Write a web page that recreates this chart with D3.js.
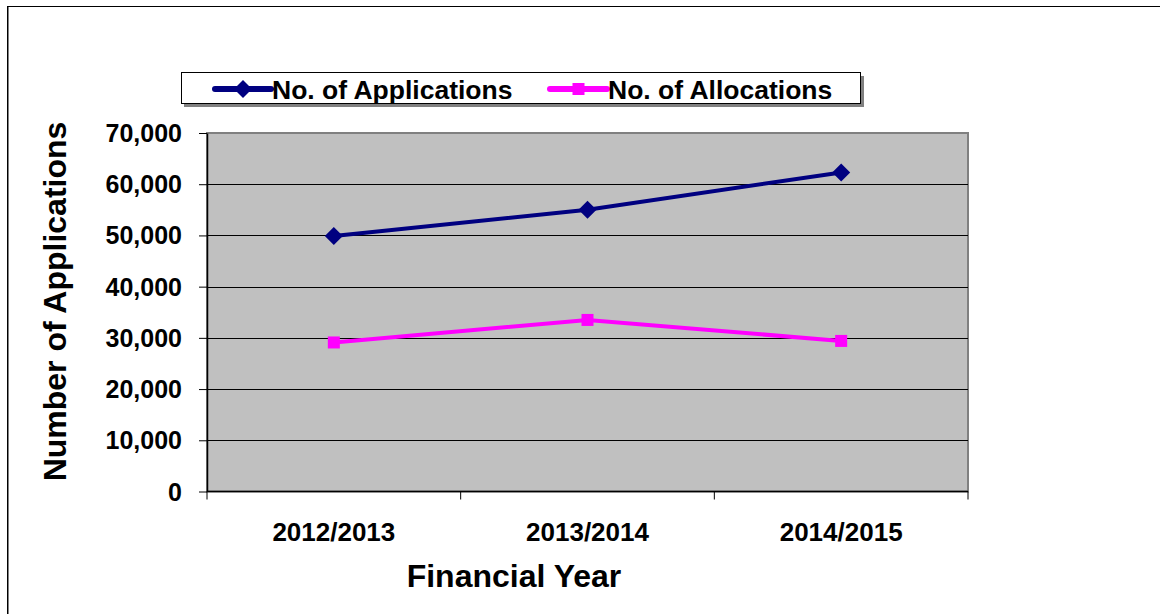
<!DOCTYPE html>
<html>
<head>
<meta charset="utf-8">
<script src="https://cdn.jsdelivr.net/npm/d3@7"></script>
<style>
  html, body { margin: 0; padding: 0; background: #fff; }
  svg { display: block; }
  text { font-family: 'Liberation Sans', Arial, sans-serif; font-weight: bold; fill: #000; }
</style>
</head>
<body>
<div id="chart"></div>
<script>
// ─── Data ───
const categories = ['2012/2013', '2013/2014', '2014/2015'];
const applications = [49900, 55000, 62300];
const allocations = [29100, 33500, 29400];
const yTickValues = [0, 10000, 20000, 30000, 40000, 50000, 60000, 70000];

const W = 1160, H = 614;
const plot = { left: 207, right: 968, top: 133, bottom: 491.5 };

const svg = d3.select('#chart').append('svg')
  .attr('width', W).attr('height', H);

// outer chart frame (runs off the right / bottom edge)
svg.append('rect')
  .attr('x', 7.5).attr('y', 6.5)
  .attr('width', W + 20).attr('height', H + 20)
  .attr('fill', '#fff')
  .attr('stroke', '#000').attr('stroke-width', 1);
svg.append('line')
  .attr('x1', 8.5).attr('x2', 8.5).attr('y1', 7).attr('y2', H)
  .attr('stroke', '#808080').attr('stroke-width', 1);

const x = d3.scaleBand().domain(categories).range([plot.left, plot.right]);
const y = d3.scaleLinear().domain([0, 70000]).range([plot.bottom, plot.top]);

// ─── Plot area ───
svg.append('rect')
  .attr('x', plot.left).attr('y', plot.top)
  .attr('width', plot.right - plot.left).attr('height', plot.bottom - plot.top)
  .attr('fill', '#c0c0c0')
  .attr('stroke', '#808080').attr('stroke-width', 2);

// gridlines
svg.append('g').selectAll('line')
  .data(yTickValues.filter(d => d > 0 && d < 70000))
  .join('line')
  .attr('x1', plot.left).attr('x2', plot.right)
  .attr('y1', d => Math.round(y(d)) + 0.5).attr('y2', d => Math.round(y(d)) + 0.5)
  .attr('stroke', '#000').attr('stroke-width', 1);

// ─── Y axis ───
const yAxis = svg.append('g')
  .attr('transform', `translate(${plot.left},0)`)
  .call(d3.axisLeft(y).tickValues(yTickValues).tickFormat(d3.format(','))
    .tickSize(8).tickSizeOuter(0).tickPadding(17));
yAxis.select('.domain').attr('stroke', '#000').attr('stroke-width', 1.5);
yAxis.selectAll('.tick line').attr('stroke', '#000');
yAxis.selectAll('.tick text')
  .attr('font-size', '25px')
  .attr('font-family', "'Liberation Sans', Arial, sans-serif")
  .attr('font-weight', 'bold')
  .attr('dy', '0.34em');

// ─── X axis ───
const xg = svg.append('g');
xg.append('line')
  .attr('x1', plot.left).attr('x2', plot.right)
  .attr('y1', plot.bottom).attr('y2', plot.bottom)
  .attr('stroke', '#000').attr('stroke-width', 1.5);
const bounds = categories.map(c => x(c)).concat([x.range()[1]]);
xg.selectAll('line.tick')
  .data(bounds)
  .join('line')
  .attr('class', 'tick')
  .attr('x1', d => d).attr('x2', d => d)
  .attr('y1', plot.bottom).attr('y2', plot.bottom + 8)
  .attr('stroke', '#000').attr('stroke-width', 1);
xg.selectAll('text')
  .data(categories)
  .join('text')
  .attr('x', d => x(d) + x.bandwidth() / 2)
  .attr('y', 540.5)
  .attr('text-anchor', 'middle')
  .attr('font-size', '26px')
  .text(d => d);

// ─── Axis titles ───
svg.append('text')
  .attr('x', 514).attr('y', 586.5)
  .attr('text-anchor', 'middle')
  .attr('font-size', '32px')
  .text('Financial Year');
svg.append('text')
  .attr('transform', 'translate(66,301.5) rotate(-90)')
  .attr('text-anchor', 'middle')
  .attr('font-size', '32px')
  .text('Number of Applications');

// ─── Series ───
const series = [
  { name: 'No. of Applications', values: applications, color: '#000080', marker: 'diamond' },
  { name: 'No. of Allocations', values: allocations, color: '#ff00ff', marker: 'square' }
];

const line = d3.line()
  .x((d, i) => x(categories[i]) + x.bandwidth() / 2)
  .y(d => y(d));

function drawMarker(g, type, cx, cy, color) {
  if (type === 'diamond') {
    const s = 9;
    g.append('path')
      .attr('d', `M${cx},${cy - s}L${cx + s},${cy}L${cx},${cy + s}L${cx - s},${cy}Z`)
      .attr('fill', color);
  } else {
    const s = 6;
    g.append('rect')
      .attr('x', cx - s).attr('y', cy - s)
      .attr('width', 2 * s).attr('height', 2 * s)
      .attr('fill', color);
  }
}

series.forEach(s => {
  const g = svg.append('g');
  g.append('path')
    .attr('d', line(s.values))
    .attr('fill', 'none')
    .attr('stroke', s.color)
    .attr('stroke-width', 4);
  s.values.forEach((v, i) => {
    drawMarker(g, s.marker, x(categories[i]) + x.bandwidth() / 2, y(v), s.color);
  });
});

// ─── Legend ───
const lg = svg.append('g');
lg.append('rect')
  .attr('x', 184).attr('y', 76)
  .attr('width', 680).attr('height', 31)
  .attr('fill', '#808080');
lg.append('rect')
  .attr('x', 181.5).attr('y', 72.5)
  .attr('width', 679).attr('height', 31)
  .attr('fill', '#fff')
  .attr('stroke', '#000').attr('stroke-width', 1);

const legendItems = [
  { x1: 215, x2: 271, tx: 272 },
  { x1: 550, x2: 607, tx: 608 }
];
series.forEach((s, i) => {
  const it = legendItems[i];
  lg.append('line')
    .attr('x1', it.x1).attr('x2', it.x2)
    .attr('y1', 89).attr('y2', 89)
    .attr('stroke', s.color).attr('stroke-width', 6)
    .attr('stroke-linecap', 'round');
  drawMarker(lg, s.marker, (it.x1 + it.x2) / 2, 89, s.color);
  lg.append('text')
    .attr('x', it.tx).attr('y', 98.5)
    .attr('font-size', '26.5px')
    .text(s.name);
});
</script>
</body>
</html>
